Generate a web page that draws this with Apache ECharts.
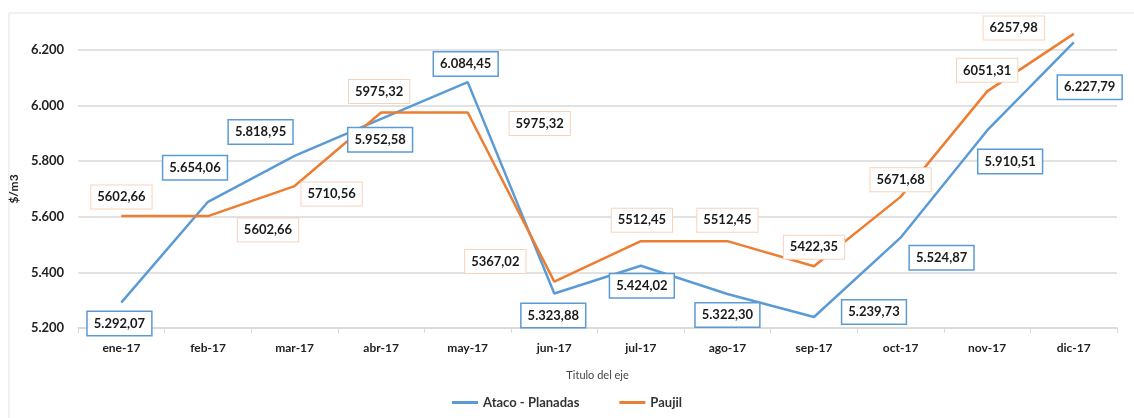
<!DOCTYPE html>
<html>
<head>
<meta charset="utf-8">
<script src="https://cdn.jsdelivr.net/npm/echarts@6/dist/echarts.min.js"></script>
<style>
  html, body { margin: 0; padding: 0; background: #fff; }
  #chart { width: 1134px; height: 418px; }
</style>
</head>
<body>
<div id="chart"></div>
<script>
// datos
var meses = ['ene-17', 'feb-17', 'mar-17', 'abr-17', 'may-17', 'jun-17',
             'jul-17', 'ago-17', 'sep-17', 'oct-17', 'nov-17', 'dic-17'];
var ataco = [5292.07, 5654.06, 5818.95, 5952.58, 6084.45, 5323.88,
             5424.02, 5322.30, 5239.73, 5524.87, 5910.51, 6227.79];
var paujil = [5602.66, 5602.66, 5710.56, 5975.32, 5975.32, 5367.02,
              5512.45, 5512.45, 5422.35, 5671.68, 6051.31, 6257.98];
var ejeY = { min: 5200, max: 6200, interval: 200 };

// desplazamiento de las etiquetas (movidas a mano en el original)
var offAtaco = [[-2, 21], [-13, -34], [-34, -24], [-1, 21], [-2, -18], [-1, 22],
                [1, 20], [0, 21], [60, -5], [41, 20], [23, 31], [16, 45]];
var offPaujil = [[0, -19], [60, 14], [37, 8], [-2, -21], [72, 11], [-59, -20],
                 [1, -21], [0, -21], [0, -19], [0, -17], [0, -21], [-60, -6]];

var font = 'Lato, "Open Sans", sans-serif';

// formato es-CO: 5.292,07
function fmtMiles(v) {
  var p = v.toFixed(2).split('.');
  return p[0].replace(/\B(?=(\d{3})+(?!\d))/g, '.') + ',' + p[1];
}
function fmtSimple(v) {
  return v.toFixed(2).replace('.', ',');
}

function puntos(valores, offsets, fmt) {
  return valores.map(function (v, i) {
    return {
      value: v,
      label: { offset: offsets[i], formatter: fmt(v) }
    };
  });
}

var myChart = echarts.init(document.getElementById('chart'));

myChart.setOption({
  animation: false,
  color: ['#5B9BD5', '#ED7D31'],
  graphic: [{
    type: 'rect',
    shape: { x: 9, y: 13, width: 1140, height: 420 },
    style: { fill: 'none', stroke: '#E3E3E3', lineWidth: 1 },
    silent: true
  }],
  grid: {
    left: 77,
    right: 17,
    top: 50,
    bottom: 90
  },
  legend: {
    bottom: 4,
    left: 'center',
    itemWidth: 26,
    itemHeight: 3,
    itemGap: 40,
    icon: 'rect',
    textStyle: { color: '#333', fontFamily: font, fontSize: 13, fontWeight: 'bold' },
    data: ['Ataco - Planadas', 'Paujil']
  },
  xAxis: {
    type: 'category',
    data: meses,
    boundaryGap: true,
    name: 'Titulo del eje',
    nameLocation: 'middle',
    nameGap: 42,
    nameTextStyle: { color: '#444', fontFamily: font, fontSize: 11 },
    axisLine: { lineStyle: { color: '#D9D9D9', width: 1.5 } },
    axisTick: { show: true, length: 5, lineStyle: { color: '#D9D9D9' } },
    axisLabel: {
      color: '#222', fontFamily: font, fontSize: 12, fontWeight: 'bold', margin: 14
    },
    splitLine: { show: false }
  },
  yAxis: {
    type: 'value',
    min: ejeY.min,
    max: ejeY.max,
    interval: ejeY.interval,
    name: '$/m3',
    nameLocation: 'middle',
    nameRotate: 90,
    nameGap: 48,
    nameTextStyle: { color: '#222', fontFamily: font, fontSize: 12, fontWeight: 'bold' },
    axisLine: { show: false },
    axisTick: { show: false },
    axisLabel: {
      color: '#222', fontFamily: font, fontSize: 13, fontWeight: 'bold', margin: 14,
      formatter: function (v) {
        return String(v).replace(/\B(?=(\d{3})+(?!\d))/g, '.');
      }
    },
    splitLine: { lineStyle: { color: '#D9D9D9', width: 1.5 } }
  },
  series: [
    {
      name: 'Ataco - Planadas',
      type: 'line',
      clip: false,
      symbol: 'circle',
      symbolSize: 1,
      showSymbol: true,
      lineStyle: { width: 2.5 },
      label: {
        show: true,
        position: 'inside',
        color: '#1a1a1a',
        fontFamily: font,
        fontSize: 13,
        fontWeight: 'bold',
        backgroundColor: '#fff',
        borderColor: '#5B9BD5',
        borderWidth: 1.5,
        padding: [5, 6]
      },
      data: puntos(ataco, offAtaco, fmtMiles)
    },
    {
      name: 'Paujil',
      type: 'line',
      clip: false,
      symbol: 'circle',
      symbolSize: 1,
      showSymbol: true,
      lineStyle: { width: 2.5 },
      label: {
        show: true,
        position: 'inside',
        color: '#1a1a1a',
        fontFamily: font,
        fontSize: 13,
        fontWeight: 'bold',
        backgroundColor: '#fff',
        borderColor: '#F8D3BC',
        borderWidth: 1,
        padding: [5, 6]
      },
      data: puntos(paujil, offPaujil, fmtSimple)
    }
  ]
});

window.addEventListener('resize', function () {
  myChart.resize();
});
</script>
</body>
</html>
